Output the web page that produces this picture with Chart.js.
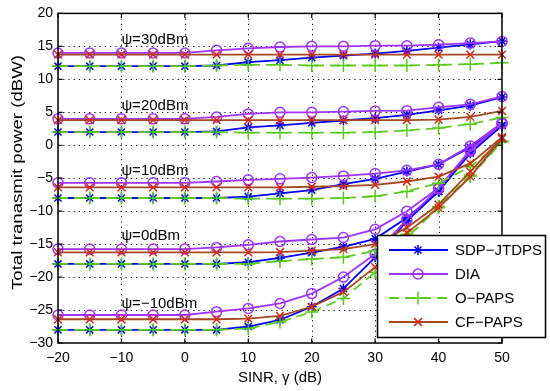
<!DOCTYPE html>
<html><head><meta charset="utf-8">
<script src="https://cdn.jsdelivr.net/npm/chart.js@4.4.1/dist/chart.umd.min.js"></script>
<style>html,body{margin:0;padding:0;background:#fff}#wrap{width:550px;height:391px;position:relative}</style>
</head><body><div id="wrap"><canvas id="c" width="550" height="391"></canvas></div>
<script>
// ---- data (x = SINR in dB, y = total transmit power in dBW) ----
const sinr = [-20,-15,-10,-5,0,5,10,15,20,25,30,35,40,45,50];
const xTicks = [-20,-10,0,10,20,30,40,50];
const yTicks = [-30,-25,-20,-15,-10,-5,0,5,10,15,20];
const seriesNames = ['SDP−JTDPS','DIA','O−PAPS','CF−PAPS'];

// psi = 30 dBm
const sdp30   = [12,12,12,12,12,12.1,12.6,12.9,13.3,13.6,13.9,14.3,14.8,15.3,15.8];
const dia30   = [14,14,14,14,14,14.4,14.7,14.9,15,15,15.1,15.1,15.25,15.5,15.75];
const opaps30 = [12,12,12,12,12,12.1,12.2,12.2,12.1,12.1,12.1,12.1,12.2,12.3,12.5];
const cf30    = [13.75,13.75,13.75,13.75,13.75,13.75,13.75,13.75,13.75,13.75,13.75,13.75,13.75,13.75,13.75];
// psi = 20 dBm
const sdp20   = [2,2,2,2,2,2.1,2.7,3.0,3.4,3.75,4.1,4.6,5.3,6.0,7.3];
const dia20   = [4,4,4,4,4,4.3,4.75,5.0,5.0,5.1,5.2,5.25,5.75,6.2,7.4];
const opaps20 = [2,2,2,2,2,2,1.9,1.9,1.9,1.9,2,2.25,2.6,3.2,4.2];
const cf20    = [3.8,3.8,3.8,3.8,3.8,3.8,3.8,3.8,3.8,3.8,3.8,3.8,3.9,4.3,5.2];
// psi = 10 dBm
const sdp10   = [-8,-8,-8,-8,-8,-8,-7.8,-7.3,-6.8,-5.9,-5.1,-4.0,-2.9,-0.3,3.0];
const dia10   = [-5.7,-5.7,-5.7,-5.7,-5.7,-5.5,-5.25,-5.1,-4.9,-4.65,-4.3,-3.8,-2.9,-0.1,3.4];
const opaps10 = [-8,-8,-8,-8,-8,-8,-8.1,-8.1,-8.1,-8,-7.75,-7.0,-5.75,-3.25,0.5];
const cf10    = [-6.4,-6.4,-6.4,-6.4,-6.4,-6.4,-6.4,-6.4,-6.3,-6.2,-6.0,-5.5,-4.75,-2.75,1.2];
// psi = 0 dBm
const sdp0    = [-18,-18,-18,-18,-18,-18,-17.75,-17.1,-16.3,-15.4,-14.2,-11,-7,-1,3.0];
const dia0    = [-15.75,-15.75,-15.75,-15.75,-15.75,-15.5,-15.1,-14.6,-14.3,-14.0,-12.75,-10.0,-6.5,-0.7,3.3];
const opaps0  = [-18,-18,-18,-18,-18,-18,-18,-17.6,-17.25,-17.0,-16.0,-13.5,-9.3,-4.5,0.6];
const cf0     = [-16.25,-16.25,-16.25,-16.25,-16.25,-16.25,-16.25,-16.2,-16.0,-15.75,-15.0,-12.5,-9.0,-4.0,1.2];
// psi = -10 dBm
const sdpM10   = [-28,-28,-28,-28,-28,-28,-27.5,-26.5,-24.5,-21.75,-17,-11.5,-7,-1.2,3.0];
const diaM10   = [-25.75,-25.75,-25.75,-25.75,-25.75,-25.25,-24.75,-24.0,-22.5,-20.0,-16.5,-11.25,-6.6,-0.9,3.3];
const opapsM10 = [-28,-28,-28,-28,-28,-28,-27.8,-26.8,-25.3,-23.25,-19.25,-14,-9.5,-4.75,0.5];
const cfM10    = [-26.4,-26.4,-26.4,-26.4,-26.4,-26.4,-26.3,-25.9,-24.5,-22.25,-18.5,-13.3,-9.5,-4.75,1.0];

const psiLabels = ['ψ=30dBm','ψ=20dBm','ψ=10dBm','ψ=0dBm','ψ=−10dBm'];
const psiLabelAt = [[-10,16],[-10,6],[-10,-3.9],[-10,-13.75],[-10,-24]];
const yTitle = 'Total tranasmit power (dBW)';

// ---- styles ----
const FONT = '"Liberation Sans", Arial, Helvetica, sans-serif';
const styles = [
  {line:'#0000ff', point:'#0000ff', pointStyle:'star', r:5, dash:[], order:3},
  {line:'#a033ff', point:'#a033ff', pointStyle:'circle', r:5, dash:[], order:2},
  {line:'#5ccc1e', point:'#4fcc10', pointStyle:'cross', r:6.5, dash:[10,6], order:1},
  {line:'#a8461e', point:'#d6281a', pointStyle:'crossRot', r:5.5, dash:[], order:0}
];
const groups = [
  [sdp30, dia30, opaps30, cf30],
  [sdp20, dia20, opaps20, cf20],
  [sdp10, dia10, opaps10, cf10],
  [sdp0, dia0, opaps0, cf0],
  [sdpM10, diaM10, opapsM10, cfM10]
];

const datasets = [];
groups.forEach((g, gi) => {
  g.forEach((vals, si) => {
    const s = styles[si];
    datasets.push({
      label: seriesNames[si],
      data: sinr.map((x, i) => ({x, y: vals[i]})),
      borderColor: s.line,
      borderWidth: 1.8,
      borderDash: s.dash,
      pointStyle: s.pointStyle,
      pointRadius: s.r,
      pointBorderColor: s.point,
      pointBackgroundColor: 'rgba(0,0,0,0)',
      pointBorderWidth: 1.5,
      fill: false,
      tension: 0,
      order: s.order,
      clip: false
    });
  });
});

function minusFmt(v){ return String(v).replace('-', '−'); }

function drawMarker(ctx, style, x, y, r, color){
  ctx.save();
  ctx.strokeStyle = color; ctx.lineWidth = 1.5; ctx.setLineDash([]);
  ctx.beginPath();
  if (style === 'circle') { ctx.arc(x, y, r, 0, Math.PI*2); }
  if (style === 'cross' || style === 'star') { ctx.moveTo(x-r,y); ctx.lineTo(x+r,y); ctx.moveTo(x,y-r); ctx.lineTo(x,y+r); }
  if (style === 'crossRot' || style === 'star') { const d=r*0.7071; ctx.moveTo(x-d,y-d); ctx.lineTo(x+d,y+d); ctx.moveTo(x-d,y+d); ctx.lineTo(x+d,y-d); }
  ctx.stroke();
  ctx.restore();
}

const decor = {
  id: 'decor',
  beforeDatasetsDraw(chart){
    const {ctx, chartArea:a, scales:{x, y}} = chart;
    ctx.save();
    ctx.strokeStyle = '#000'; ctx.lineWidth = 1; ctx.setLineDash([1.2, 4]);
    xTicks.forEach(v => { if (v === x.min || v === x.max) return; const px = Math.round(x.getPixelForValue(v))+0.5;
      ctx.beginPath(); ctx.moveTo(px, a.top); ctx.lineTo(px, a.bottom); ctx.stroke(); });
    yTicks.forEach(v => { if (v === y.min || v === y.max) return; const py = Math.round(y.getPixelForValue(v))+0.5;
      ctx.beginPath(); ctx.moveTo(a.left, py); ctx.lineTo(a.right, py); ctx.stroke(); });
    ctx.restore();
  },
  afterDatasetsDraw(chart){
    const {ctx, chartArea:a, scales:{x, y}} = chart;
    ctx.save();
    // box
    ctx.strokeStyle = '#000'; ctx.lineWidth = 1.5; ctx.setLineDash([]);
    ctx.strokeRect(a.left, a.top, a.right - a.left, a.bottom - a.top);
    // inward ticks
    ctx.lineWidth = 1.2;
    const tl = 4.5;
    xTicks.forEach(v => { const px = x.getPixelForValue(v);
      ctx.beginPath(); ctx.moveTo(px, a.bottom); ctx.lineTo(px, a.bottom - tl); ctx.moveTo(px, a.top); ctx.lineTo(px, a.top + tl); ctx.stroke(); });
    yTicks.forEach(v => { const py = y.getPixelForValue(v);
      ctx.beginPath(); ctx.moveTo(a.left, py); ctx.lineTo(a.left + tl, py); ctx.moveTo(a.right, py); ctx.lineTo(a.right - tl, py); ctx.stroke(); });
    // y-axis title (stretched along its length like the reference)
    ctx.fillStyle = '#000'; ctx.font = '15px ' + FONT; ctx.textBaseline = 'middle'; ctx.textAlign = 'center';
    const tw = ctx.measureText(yTitle).width;
    ctx.save();
    ctx.translate(18, 172.5); ctx.rotate(-Math.PI/2); ctx.scale(235 / tw, 1);
    ctx.fillText(yTitle, 0, 0);
    ctx.restore();
    // psi annotations
    ctx.font = '15px ' + FONT; ctx.textAlign = 'left';
    psiLabels.forEach((t, i) => { ctx.fillText(t, x.getPixelForValue(psiLabelAt[i][0]), y.getPixelForValue(psiLabelAt[i][1])); });
    // legend
    const lx = 377, ly = 235, lw = 168, lh = 102;
    ctx.fillStyle = '#fff'; ctx.fillRect(lx, ly, lw, lh);
    ctx.strokeStyle = '#000'; ctx.lineWidth = 1.5; ctx.strokeRect(lx + 0.5, ly + 0.5, lw, lh);
    ctx.font = '15px ' + FONT;
    seriesNames.forEach((n, i) => {
      const s = styles[i]; const cy = ly + 15 + i * 24;
      ctx.strokeStyle = s.line; ctx.lineWidth = 1.8; ctx.setLineDash(s.dash);
      ctx.beginPath(); ctx.moveTo(lx + 12, cy); ctx.lineTo(lx + 71, cy); ctx.stroke();
      ctx.setLineDash([]);
      drawMarker(ctx, s.pointStyle, lx + 41, cy, s.r, s.point);
      ctx.fillStyle = '#000'; ctx.fillText(n, lx + 78, cy + 1);
    });
    ctx.restore();
  }
};

new Chart(document.getElementById('c'), {
  type: 'line',
  data: { datasets },
  options: {
    responsive: false,
    devicePixelRatio: 1,
    animation: false,
    events: [],
    layout: { padding: { top: 10, right: 48, left: 0, bottom: 0 } },
    plugins: { legend: { display: false }, tooltip: { enabled: false } },
    scales: {
      x: {
        type: 'linear', min: -20, max: 50,
        afterBuildTicks: s => { s.ticks = xTicks.map(v => ({value: v})); },
        afterFit: s => { s.height = 48; },
        grid: { display: false, drawTicks: false },
        border: { display: false },
        ticks: { color: '#000', padding: 7, maxRotation: 0, autoSkip: false, font: { size: 14, family: FONT }, callback: v => minusFmt(v) },
        title: { display: true, text: 'SINR, γ (dB)', color: '#000', font: { size: 15, family: FONT }, padding: { top: 0, bottom: 4 } }
      },
      y: {
        type: 'linear', min: -30, max: 20,
        afterBuildTicks: s => { s.ticks = yTicks.map(v => ({value: v})); },
        afterFit: s => { s.width = 58; },
        grid: { display: false, drawTicks: false },
        border: { display: false },
        ticks: { color: '#000', padding: 5, autoSkip: false, font: { size: 14, family: FONT }, callback: v => minusFmt(v) },
        title: { display: false }
      }
    }
  },
  plugins: [decor]
});
</script></body></html>
